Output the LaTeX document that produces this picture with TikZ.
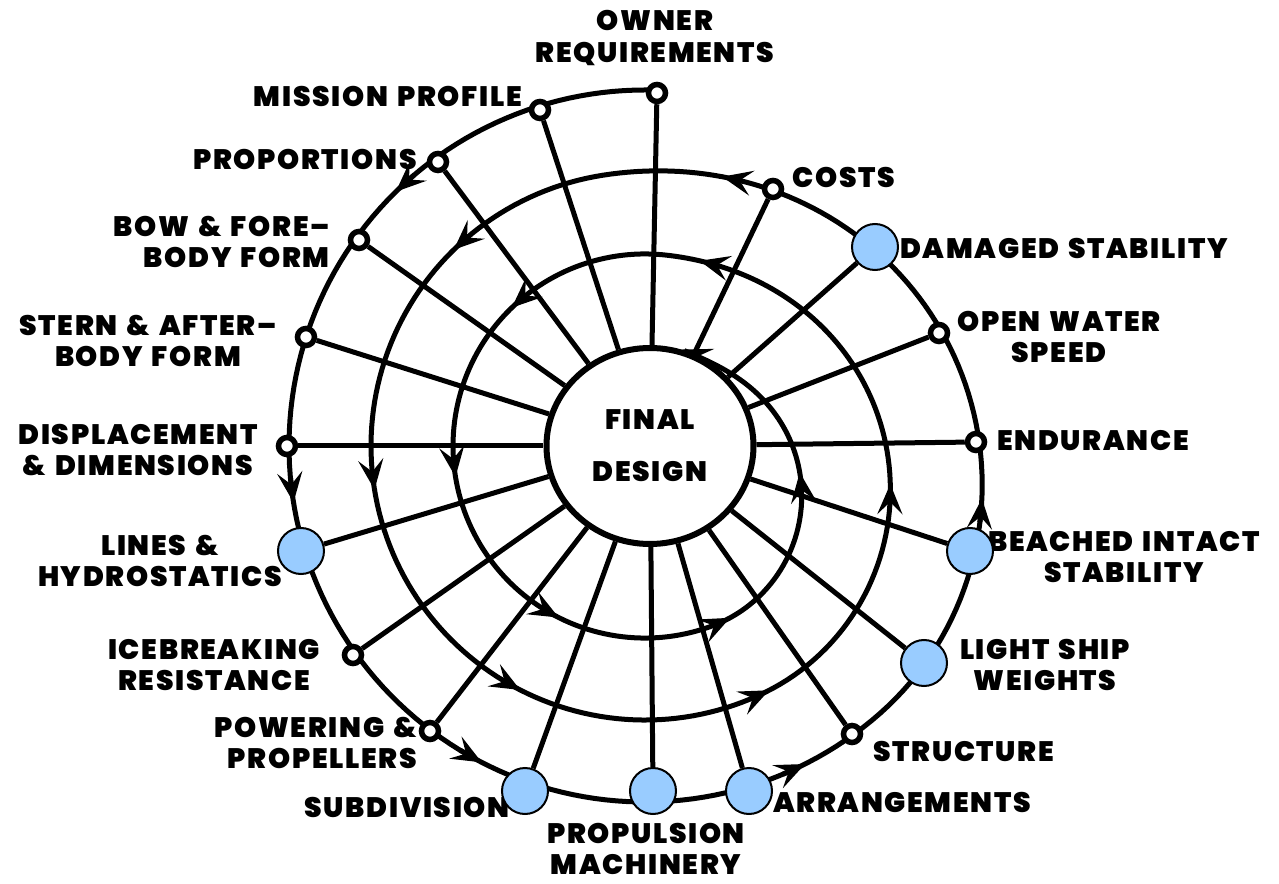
\documentclass[tikz,border=0pt]{standalone}
\usepackage{fontspec}
\setsansfont{Poppins}[LetterSpace=6, WordSpace=1.4, BoldFont={Poppins Black}]
\usetikzlibrary{shapes.geometric, backgrounds, arrows.meta}
\definecolor{stepblue}{HTML}{99CCFF}

\begin{document}
\begin{tikzpicture}[
    x=0.2mm, y=0.2mm,
    >={Stealth[length=6mm, width=5mm, inset=2.4mm]},
    font=\sffamily\bfseries\fontsize{16}{18}\selectfont,
    declare function={
        ramp(\tx,\ax,\wx)=min(max((\tx-\ax)/\wx,0),1);
        sst(\ux)=\ux*\ux*(3-2*\ux);
        rr(\tx)=356-82*sst(ramp(\tx,310,150))-82*sst(ramp(\tx,655,150))-89*sst(ramp(\tx,1010,140))-5*cos(\tx);
    },
    dot/.style={circle, draw=black, line width=1.1mm, fill=white, minimum size=3.4mm, inner sep=0pt},
    dotHL/.style={circle, draw=black, line width=0.4mm, fill=stepblue, minimum size=9.2mm, inner sep=0pt},
    core/.style={ellipse, draw=black, line width=1.2mm, fill=white, minimum width=41.4mm, minimum height=39.2mm, align=center, inner sep=0pt, font=\sffamily\bfseries\fontsize{16}{29.6}\selectfont},
    lbl/.style={inner sep=0pt, align=center},
    ring/.style={line width=1mm},
    spoke/.style={line width=1mm}
]
\useasboundingbox (-650,-437) rectangle (629,446);

% labels first, so the blue steps sit on top of them
\node[lbl] (ownerL) at (5,408) {OWNER\\REQUIREMENTS};
\node[lbl, anchor=east] (missionL) at (-128,350) {MISSION PROFILE};
\node[lbl, anchor=east] (proportionsL) at (-233,287) {PROPORTIONS};
\node[lbl, anchor=east, align=right] (bowL) at (-320,204) {BOW \& FORE–\\BODY FORM};
\node[lbl] (sternL) at (-502,105) {STERN \& AFTER–\\BODY FORM};
\node[lbl] (displL) at (-512,-4) {DISPLACEMENT\\\& DIMENSIONS};
\node[lbl] (linesL) at (-490,-115) {LINES \&\\HYDROSTATICS};
\node[lbl] (iceL) at (-436,-219) {ICEBREAKING\\RESISTANCE};
\node[lbl, anchor=east, align=right] (poweringL) at (-233,-297) {POWERING \&\\PROPELLERS};
\node[lbl, anchor=east] (subdivL) at (-140,-361) {SUBDIVISION};
\node[lbl] (propulL) at (-4,-403) {PROPULSION\\MACHINERY};
\node[lbl, anchor=west] (arrangeL) at (123,-356) {ARRANGEMENTS};
\node[lbl, anchor=west] (structL) at (223,-305) {STRUCTURE};
\node[lbl] (lightshipL) at (395,-219) {LIGHT SHIP\\WEIGHTS};
\node[lbl] (beachedL) at (474,-111) {BEACHED INTACT\\STABILITY};
\node[lbl, anchor=west] (endurL) at (347,5) {ENDURANCE};
\node[lbl] (openwL) at (409,109) {OPEN WATER\\SPEED};
\node[lbl, anchor=west] (damagedL) at (250,198) {DAMAGED STABILITY};
\node[lbl, anchor=west] (costsL) at (142,269) {COSTS};

\node[core] (final) at (0,0) {FINAL\\DESIGN};

% steps on the spiral
\node[dot] (owner) at (7,353) {};
\node[dot] (mission) at (-110,336) {};
\node[dot] (proportions) at (-212,284) {};
\node[dot] (bow) at (-291,206) {};
\node[dot] (stern) at (-344,109) {};
\node[dot] (displ) at (-363,0) {};
\node[dotHL] (lines) at (-349,-105) {};
\node[dot] (ice) at (-297,-209) {};
\node[dot] (powering) at (-220,-285) {};
\node[dotHL] (subdiv) at (-125,-345) {};
\node[dotHL] (propul) at (3,-345) {};
\node[dotHL] (arrange) at (99,-345) {};
\node[dot] (struct) at (202,-288) {};
\node[dotHL] (lightship) at (274,-217) {};
\node[dotHL] (beached) at (320,-105) {};
\node[dot] (endur) at (326,4) {};
\node[dot] (openw) at (289,113) {};
\node[dotHL] (damaged) at (225,199) {};
\node[dot] (costs) at (123,257) {};

\begin{pgfonlayer}{background}
    \draw[ring, ->] plot[domain=88.9:1152, samples=600] (\x:{rr(\x)});
    \foreach \ang in {135,189,242,296,351,435,495,549,602,656,711,795,855,909,962,1015,1070}
        \draw[ring, ->] ({\ang-4}:{rr(\ang-4)}) -- (\ang:{rr(\ang)});
    \foreach \n in {owner,mission,proportions,bow,stern,displ,lines,ice,powering,subdiv,propul,arrange,struct,lightship,beached,endur,openw,damaged,costs}
        \draw[spoke] (\n) -- (final);
\end{pgfonlayer}
\end{tikzpicture}
\end{document}
